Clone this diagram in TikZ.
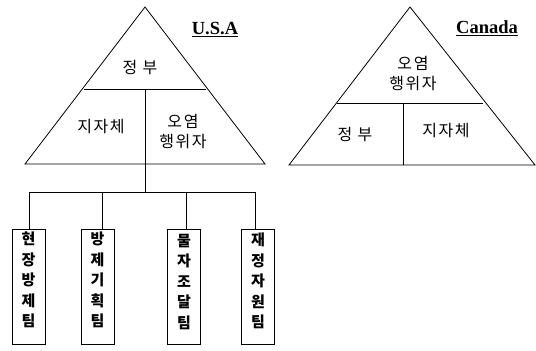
\documentclass[tikz,border=0pt]{standalone}
\usepackage{fontspec}
\setmainfont{Noto Sans CJK KR}
\newfontfamily\kofont[LetterSpace=10]{Noto Sans CJK KR}
\newfontfamily\titlefont{Liberation Serif}
\begin{document}
\begin{tikzpicture}[x=1pt,y=-1pt,
  edge/.style={line width=0.8pt,black},
  ko/.style={font=\kofont\fontsize{16}{20}\selectfont,align=center,inner sep=0pt},
  title/.style={font=\titlefont\bfseries\fontsize{18.5}{20}\selectfont,inner sep=0pt},
  teambox/.style={draw,line width=0.9pt,minimum width=33pt,minimum height=115pt,inner sep=0pt},
  vtext/.style={font=\bfseries\fontsize{15}{20.5}\selectfont,align=center,inner sep=0pt}]
\useasboundingbox (0,0) rectangle (536,351);
% USA triangle
\draw[edge,line join=miter] (145,7) -- (265,164) -- (25,164) -- cycle;
\draw[edge] (84,89) -- (206,89);
\draw[edge] (145,89) -- (145,164);
\node[ko] (usgov) at (140,68) {정 부};
\node[ko] (uslocal) at (101,127) {지자체};
\node[ko] (uspoll) at (183,132) {오염\\행위자};
\node[title] (usa) at (215,30) {\underline{U.S.A}};
% Canada triangle
\draw[edge,line join=miter] (410,7) -- (535,165) -- (289,165) -- cycle;
\draw[edge] (337,103) -- (483,103);
\draw[edge] (403,103) -- (403,165);
\node[ko] (capoll) at (413,74) {오염\\행위자};
\node[ko] (cagov) at (355,135) {정 부};
\node[ko] (calocal) at (446,131) {지자체};
\node[title] (can) at (487,28) {\underline{Canada}};
% org tree
\coordinate (top) at (145,164);
\coordinate (hub) at (145,192);
\coordinate (d1) at (29,192);
\coordinate (d2) at (102,192);
\coordinate (d3) at (186,192);
\coordinate (d4) at (255,192);
\node[teambox] (b1) at (28.5,286.5) {};
\node[teambox] (b2) at (97.5,286.5) {};
\node[teambox] (b3) at (184,286.5) {};
\node[teambox] (b4) at (258,286.5) {};
\node[vtext] (t1) at (28.5,280) {현\\장\\방\\제\\팀};
\node[vtext] (t2) at (97.5,280) {방\\제\\기\\획\\팀};
\node[vtext] (t3) at (184,282) {물\\자\\조\\달\\팀};
\node[vtext] (t4) at (258,281) {재\\정\\자\\원\\팀};
\draw[edge] (top) -- (hub);
\draw[edge] (d1) -- (d4);
\draw[edge] (d1) -- (d1 |- b1.north);
\draw[edge] (d2) -- (d2 |- b2.north);
\draw[edge] (d3) -- (d3 |- b3.north);
\draw[edge] (d4) -- (d4 |- b4.north);
\end{tikzpicture}
\end{document}
